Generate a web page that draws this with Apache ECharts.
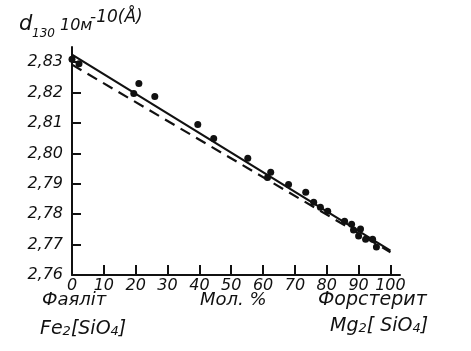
<!DOCTYPE html>
<html>
<head>
<meta charset="utf-8">
<script src="https://cdn.jsdelivr.net/npm/echarts@6/dist/echarts.min.js"></script>
<style>
  html, body { margin: 0; padding: 0; background: #fff; }
  #chart { width: 471px; height: 351px; }
</style>
</head>
<body>
<div id="chart"></div>
<script>
const molPct = [0, 2.2, 19.4, 21, 26, 39.5, 44.5, 55.2, 61.4, 62.4, 68, 73.4, 75.9, 78, 80.3, 85.6, 87.8, 88.4, 90, 90.6, 92.2, 94.4, 95.6];
const d130 = [2.831, 2.8295, 2.8197, 2.8230, 2.8187, 2.8095, 2.8049, 2.7984, 2.7921, 2.7938, 2.7898, 2.7872, 2.7839, 2.7823, 2.7810, 2.7777, 2.7767, 2.7748, 2.7728, 2.7751, 2.7718, 2.7718, 2.7692];

// two straight reference lines (ends at 0 and 100 mol %)
const solidLine = [[0, 2.8325], [100, 2.7680]];
const dashedLine = [[0, 2.8292], [100, 2.7675]];

const xTicks = [0, 10, 20, 30, 40, 50, 60, 70, 80, 90, 100];
const yTicks = [2.76, 2.77, 2.78, 2.79, 2.80, 2.81, 2.82, 2.83];

const font = 'DejaVu Sans';
const ink = '#111';

const points = molPct.map((x, i) => [x, d130[i]]);

function label(x, y, text, size) {
  return {
    type: 'text', x: x, y: y,
    style: { text: text, font: 'italic ' + size + 'px ' + font, fill: ink, verticalAlign: 'middle' }
  };
}

const chart = echarts.init(document.getElementById('chart'));
chart.setOption({
  backgroundColor: '#fff',
  animation: false,
  grid: { left: 72, right: 71, top: 47, bottom: 76 },
  xAxis: {
    type: 'value',
    min: 0,
    max: 103,
    splitLine: { show: false },
    axisLine: { lineStyle: { color: ink, width: 2 } },
    axisTick: { inside: true, length: 10, customValues: xTicks, lineStyle: { color: ink, width: 2 } },
    axisLabel: {
      customValues: xTicks,
      margin: 3,
      color: ink,
      fontFamily: font,
      fontStyle: 'italic',
      fontSize: 16
    }
  },
  yAxis: {
    type: 'value',
    min: 2.76,
    max: 2.835,
    splitLine: { show: false },
    axisLine: { onZero: false, lineStyle: { color: ink, width: 2 } },
    axisTick: { inside: true, length: 9, customValues: yTicks, lineStyle: { color: ink, width: 2 } },
    axisLabel: {
      customValues: yTicks,
      margin: 9,
      color: ink,
      fontFamily: font,
      fontStyle: 'italic',
      fontSize: 16,
      formatter: v => v.toFixed(2).replace('.', ',')
    }
  },
  graphic: [
    // axis title: d130 10м^-10(Å)
    label(19, 25, 'd', 21),
    label(32, 34, '130', 12),
    label(60, 26, '10м', 16),
    label(90, 18, '-10(Å)', 17),
    // bottom captions
    label(42, 300, 'Фаялiт', 18),
    label(200, 300, 'Мол. %', 18),
    label(318, 300, 'Форстерит', 19),
    {
      type: 'text', x: 40, y: 329,
      style: {
        text: '{a|Fe}{b|2}{a|[SiO}{b|4}{a|]}',
        verticalAlign: 'middle',
        rich: {
          a: { font: 'italic 19px ' + font, fill: ink, verticalAlign: 'bottom' },
          b: { font: 'italic 13px ' + font, fill: ink, verticalAlign: 'bottom', padding: [6, 0, 0, 0] }
        }
      }
    },
    {
      type: 'text', x: 330, y: 326,
      style: {
        text: '{a|Mg}{b|2}{a|[ SiO}{b|4}{a|]}',
        verticalAlign: 'middle',
        rich: {
          a: { font: 'italic 19px ' + font, fill: ink, verticalAlign: 'bottom' },
          b: { font: 'italic 13px ' + font, fill: ink, verticalAlign: 'bottom', padding: [6, 0, 0, 0] }
        }
      }
    }
  ],
  series: [
    {
      type: 'line',
      data: solidLine,
      symbol: 'none',
      lineStyle: { color: ink, width: 2.2 },
      z: 2
    },
    {
      type: 'line',
      data: dashedLine,
      symbol: 'none',
      lineStyle: { color: ink, width: 2.2, type: [11, 7] },
      z: 2
    },
    {
      type: 'scatter',
      data: points,
      symbolSize: 7,
      itemStyle: { color: ink, opacity: 1 },
      z: 3
    }
  ]
});
</script>
</body>
</html>
